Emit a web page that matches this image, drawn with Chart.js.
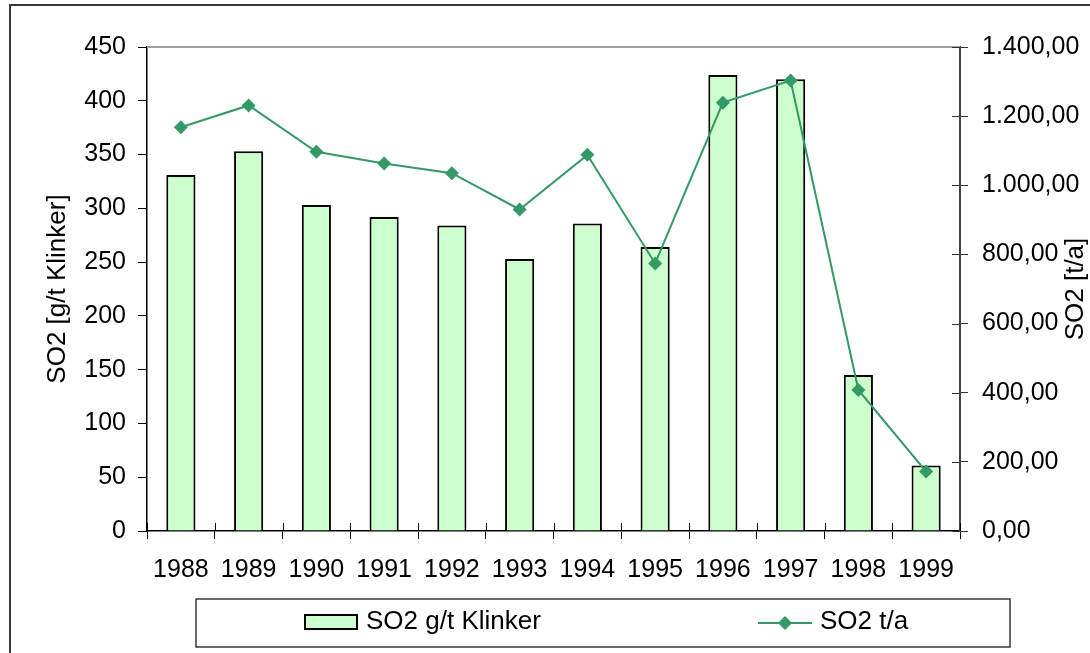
<!DOCTYPE html>
<html>
<head>
<meta charset="utf-8">
<script src="https://cdn.jsdelivr.net/npm/chart.js@4/dist/chart.umd.min.js"></script>
<style>
  html, body { margin: 0; padding: 0; background: #fff; }
  #wrap { width: 1090px; height: 653px; position: relative; }
</style>
</head>
<body>
<div id="wrap"><canvas id="chartSO2" width="1090" height="653"></canvas></div>
<script>
// datos
const anios = ['1988', '1989', '1990', '1991', '1992', '1993', '1994', '1995', '1996', '1997', '1998', '1999'];
const so2Klinker = [331, 353, 303, 292, 284, 253, 286, 264, 424, 420, 145, 61];
const so2Anual = [1168, 1231, 1097, 1063, 1035, 930, 1088, 774, 1239, 1303, 408, 172];

const etiquetas = {
    barras: 'SO2 g/t Klinker',
    linea: 'SO2 t/a',
    ejeIzq: 'SO2 [g/t Klinker]',
    ejeDer: 'SO2 [t/a]'
};

const colores = {
    relleno: '#CCFFCC',
    borde: '#000000',
    linea: '#339966',
    marco: '#3a3a3a',
    bordeSup: '#a0a0a0'
};

const fuente = "'Liberation Sans', Arial, sans-serif";

// formato alemán: 1.400,00
function formatoDe(v) {
    const partes = Number(v).toFixed(2).split('.');
    const entero = partes[0].replace(/\B(?=(\d{3})+(?!\d))/g, '.');
    return entero + ',' + partes[1];
}

// marco, línea superior, ticks interiores, títulos y leyenda
const extrasPlugin = {
    id: 'extras',
    afterDraw(chart) {
        const ctx = chart.ctx;
        const area = chart.chartArea;
        const x = chart.scales.x;
        const y1 = chart.scales.y1;
        ctx.save();

        // marco exterior
        ctx.strokeStyle = colores.marco;
        ctx.lineWidth = 2;
        ctx.beginPath();
        ctx.moveTo(10, 653);
        ctx.lineTo(10, 5);
        ctx.lineTo(1090, 5);
        ctx.stroke();

        // borde superior del área
        ctx.strokeStyle = colores.bordeSup;
        ctx.lineWidth = 2;
        ctx.beginPath();
        ctx.moveTo(area.left, area.top);
        ctx.lineTo(area.right, area.top);
        ctx.stroke();

        // parte interior de los ticks del eje x
        ctx.strokeStyle = '#000';
        ctx.lineWidth = 1;
        ctx.beginPath();
        for (let i = 0; i <= anios.length; i++) {
            const px = Math.round(x.getPixelForValue(i - 0.5)) + 0.5;
            ctx.moveTo(px, area.bottom);
            ctx.lineTo(px, area.bottom - 8);
        }
        ctx.stroke();

        // parte interior de los ticks del eje derecho
        ctx.strokeStyle = '#333';
        ctx.beginPath();
        y1.ticks.forEach(t => {
            const py = Math.round(y1.getPixelForValue(t.value)) + 0.5;
            ctx.moveTo(area.right, py);
            ctx.lineTo(area.right - 8, py);
        });
        ctx.stroke();

        // títulos de los ejes
        ctx.fillStyle = '#000';
        ctx.font = '26px ' + fuente;
        ctx.textAlign = 'center';
        ctx.textBaseline = 'middle';
        const cy = (area.top + area.bottom) / 2;
        ctx.save();
        ctx.translate(58, cy);
        ctx.rotate(-Math.PI / 2);
        ctx.fillText(etiquetas.ejeIzq, 0, 0);
        ctx.restore();
        ctx.save();
        ctx.translate(1076, cy);
        ctx.rotate(-Math.PI / 2);
        ctx.fillText(etiquetas.ejeDer, 0, 0);
        ctx.restore();

        // leyenda
        ctx.strokeStyle = colores.marco;
        ctx.lineWidth = 1.5;
        ctx.strokeRect(196, 599, 814, 48);

        ctx.fillStyle = colores.relleno;
        ctx.fillRect(305, 615, 52, 14);
        ctx.strokeStyle = colores.borde;
        ctx.lineWidth = 2;
        ctx.strokeRect(305, 615, 52, 14);

        ctx.strokeStyle = colores.linea;
        ctx.lineWidth = 2;
        ctx.beginPath();
        ctx.moveTo(758, 623);
        ctx.lineTo(812, 623);
        ctx.stroke();
        ctx.fillStyle = colores.linea;
        ctx.beginPath();
        ctx.moveTo(785, 616);
        ctx.lineTo(792, 623);
        ctx.lineTo(785, 630);
        ctx.lineTo(778, 623);
        ctx.closePath();
        ctx.fill();

        ctx.fillStyle = '#000';
        ctx.textAlign = 'left';
        ctx.font = '26px ' + fuente;
        ctx.fillText(chart.data.datasets[1].label, 366, 622);
        ctx.fillText(chart.data.datasets[0].label, 820, 622);

        ctx.restore();
    }
};

const ctx = document.getElementById('chartSO2').getContext('2d');

new Chart(ctx, {
    type: 'bar',
    data: {
        labels: anios,
        datasets: [
            {
                type: 'line',
                label: etiquetas.linea,
                data: so2Anual,
                yAxisID: 'y1',
                borderColor: colores.linea,
                backgroundColor: colores.linea,
                borderWidth: 2,
                tension: 0,
                pointStyle: 'rectRot',
                pointRadius: 7,
                pointHoverRadius: 7,
                pointBorderWidth: 0,
                order: 0
            },
            {
                type: 'bar',
                label: etiquetas.barras,
                data: so2Klinker,
                yAxisID: 'y',
                backgroundColor: colores.relleno,
                borderColor: colores.borde,
                borderWidth: 2,
                barPercentage: 0.43,
                categoryPercentage: 1.0,
                order: 1
            }
        ]
    },
    options: {
        responsive: false,
        animation: false,
        layout: {
            padding: { top: 47, left: 0, right: 0, bottom: 0 }
        },
        plugins: {
            legend: { display: false },
            tooltip: { enabled: false }
        },
        scales: {
            x: {
                offset: true,
                grid: {
                    offset: true,
                    drawOnChartArea: false,
                    tickLength: 8,
                    tickColor: '#000'
                },
                border: { display: true, color: '#000', width: 1.5 },
                ticks: {
                    color: '#000',
                    font: { family: fuente, size: 25 },
                    padding: 16,
                    maxRotation: 0
                },
                afterFit: function(scale) { scale.height = 122; }
            },
            y: {
                position: 'left',
                min: 0,
                max: 450,
                ticks: {
                    stepSize: 50,
                    color: '#000',
                    font: { family: fuente, size: 25 },
                    padding: 12
                },
                grid: {
                    drawOnChartArea: false,
                    tickLength: 9,
                    tickColor: '#000'
                },
                border: { display: true, color: '#000', width: 1.5 },
                afterFit: function(scale) { scale.width = 147; }
            },
            y1: {
                position: 'right',
                min: 0,
                max: 1400,
                ticks: {
                    stepSize: 200,
                    color: '#000',
                    font: { family: fuente, size: 25 },
                    padding: 14,
                    callback: function(value) { return formatoDe(value); }
                },
                grid: {
                    drawOnChartArea: false,
                    tickLength: 8,
                    tickColor: '#333'
                },
                border: { display: true, color: '#444', width: 2 },
                afterFit: function(scale) { scale.width = 130; }
            }
        }
    },
    plugins: [extrasPlugin]
});
</script>
</body>
</html>
